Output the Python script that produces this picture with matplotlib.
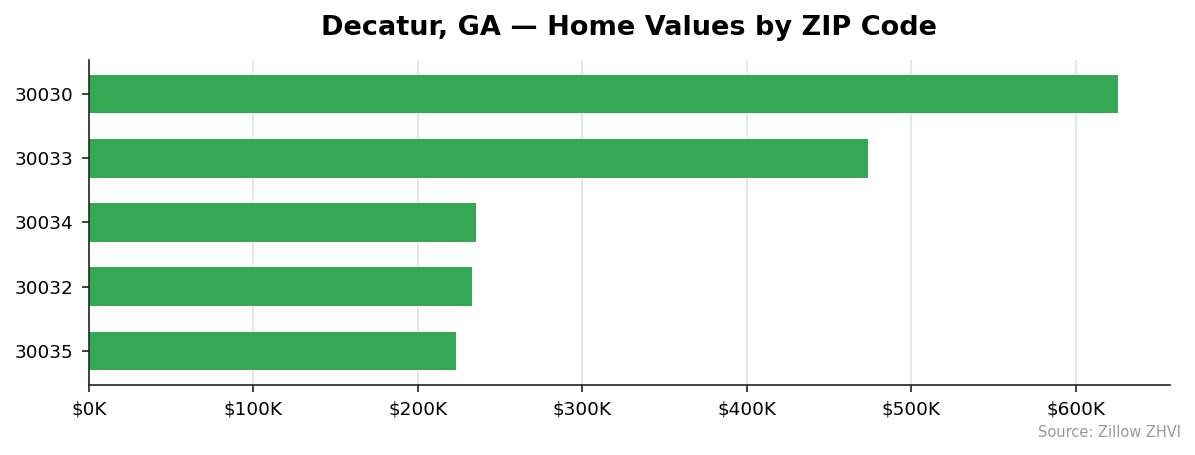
import matplotlib
matplotlib.use("Agg")
import matplotlib.pyplot as plt
from matplotlib.ticker import FuncFormatter

zips = ["30030", "30033", "30034", "30032", "30035"]
values = [626000, 474000, 235500, 233000, 223000]

fig, ax = plt.subplots(figsize=(11.95, 4.55), dpi=100)
fig.subplots_adjust(left=0.0745, right=0.979, top=0.868, bottom=0.154)

ax.barh(zips[::-1], values[::-1], height=0.6, color="#34a853", zorder=2)
ax.set_xlim(0, max(values) * 1.05)
ax.xaxis.set_major_formatter(FuncFormatter(lambda v, p: f"${v/1000:.0f}K"))
ax.grid(axis="x", color="#e3e3e3", linewidth=1.2, zorder=0)
ax.spines["top"].set_visible(False)
ax.spines["right"].set_visible(False)
for s in ("left", "bottom"):
    ax.spines[s].set_color("#222222")
    ax.spines[s].set_linewidth(1.2)
ax.tick_params(labelsize=13.3, length=5, width=1.2, pad=6, color="#222222")
ax.set_title("Decatur, GA — Home Values by ZIP Code", fontsize=19.5, fontweight="bold", pad=18)
fig.text(0.988, 0.032, "Source: Zillow ZHVI", ha="right", va="bottom", fontsize=10.5, color="#999999")

fig.savefig("out.png", dpi=100)
